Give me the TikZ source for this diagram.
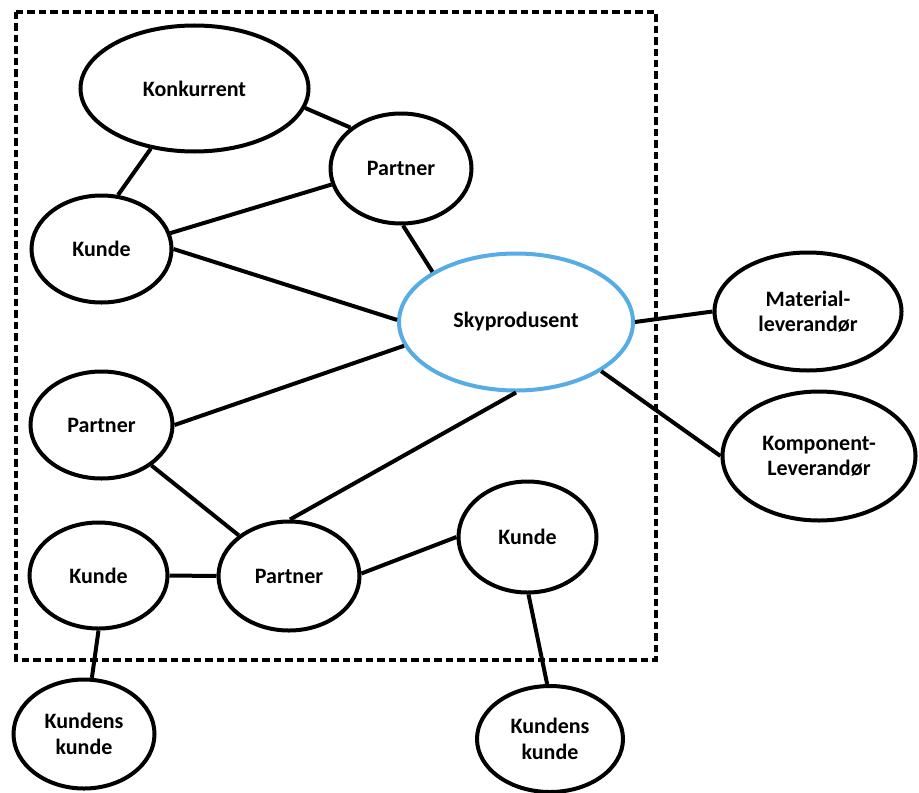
\documentclass[tikz,border=0pt]{standalone}
\usepackage{fontspec}
\setmainfont{Carlito}
\usetikzlibrary{shapes.geometric}
\definecolor{skyblue}{RGB}{86,172,228}

\begin{document}
\begin{tikzpicture}[x=0.75pt,y=-0.75pt,
  actor/.style={ellipse, draw=black, line width=3pt, inner sep=0pt, fill=white,
    align=center, font=\bfseries\fontsize{16.5}{19}\selectfont},
  size/.style 2 args={minimum width=#1*0.75pt, minimum height=#2*0.75pt},
  link/.style={line width=3pt},
  zone/.style={line width=2.3pt, dash pattern=on 5.6pt off 3pt},
]
\useasboundingbox (0,0) rectangle (919,792);

% boundary of the cloud provider's ecosystem
\draw[zone] (16,12) rectangle (656,660);

% actors
\node[actor, size={228}{126}] (konk) at (194.5,88.5) {Konkurrent};
\node[actor, size={141}{110}] (partnerA) at (401,168.5) {Partner};
\node[actor, size={140}{107}] (kundeA) at (101.5,249) {Kunde};
\node[actor, size={234}{137}, draw=skyblue] (sky) at (516,322) {Skyprodusent};
\node[actor, size={187}{118}] (mat) at (808,311.5) {Material-\\leverandør};
\node[actor, size={193}{129}] (komp) at (819,456) {Komponent-\\Leverandør};
\node[actor, size={142}{107}] (partnerB) at (101.5,425) {Partner};
\node[actor, size={138}{106}] (kundeB) at (98.5,575.5) {Kunde};
\node[actor, size={141}{109}] (partnerC) at (289,576) {Partner};
\node[actor, size={138}{111}] (kundeC) at (527.5,537) {Kunde};
\node[actor, size={141}{109}] (kkA) at (84,734) {Kundens\\kunde};
\node[actor, size={146}{106}] (kkB) at (550,739) {Kundens\\kunde};

% relations
\draw[link] (konk.234) -- (kundeA.73);
\draw[link] (konk.350) -- (partnerA.141);
\draw[link] (kundeA.13) -- (partnerA.193);
\draw[link] (kundeA.0) -- (sky.179);
\draw[link] (partnerA.272) -- (sky.149);
\draw[link] (partnerB.0) -- (sky.192);
\draw[link] (partnerB.321) -- (partnerC.141);
\draw[link] (sky.270) -- (partnerC.89);
\draw[link] (kundeB.0) -- (partnerC.180);
\draw[link] (partnerC.2) -- (kundeC.180);
\draw[link] (kundeC.271) -- (kkB.93);
\draw[link] (kundeB.270) -- (kkA.82);
\draw[link] (sky.0) -- (mat.180);
\draw[link] (sky.330) -- (komp.180);
\end{tikzpicture}
\end{document}
